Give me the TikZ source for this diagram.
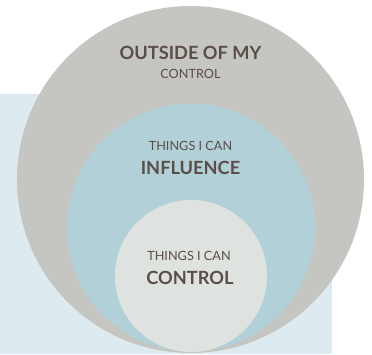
\documentclass[tikz,border=0pt]{standalone}
\usepackage{fontspec}
\setmainfont{Lato}
\definecolor{bgblue}{HTML}{DDEBF0}
\definecolor{outergray}{HTML}{C5C5C1}
\definecolor{midblue}{HTML}{B2D0D8}
\definecolor{innergray}{HTML}{DEE3DF}
\definecolor{txt}{HTML}{5B4D47}
\tikzset{
  big/.style={font=\fontsize{18.2}{20}\selectfont\bfseries, text=txt, anchor=base, inner sep=0pt},
  small/.style={font=\fontsize{12.7}{14}\selectfont, text=txt, anchor=base, inner sep=0pt}
}
\begin{document}
\begin{tikzpicture}[x=1pt,y=-1pt]
\useasboundingbox (0,0) rectangle (372,354);
\fill[bgblue] (0,94) rectangle (332,354);
\fill[outergray] (190.5,179.5) circle (173.5);
\fill[midblue] (191,227.5) circle (124);
\fill[innergray] (191,276) circle (76);
\node[big] (t1) at (190.5,59) {OUTSIDE OF MY};
\node[small] (t2) at (190.5,78.3) {CONTROL};
\node[small] (t3) at (190.5,150.7) {THINGS I CAN};
\node[big] (t4) at (190.5,174.3) {INFLUENCE};
\node[small] (t5) at (189,260.7) {THINGS I CAN};
\node[big] (t6) at (190,284.3) {CONTROL};
\end{tikzpicture}
\end{document}
